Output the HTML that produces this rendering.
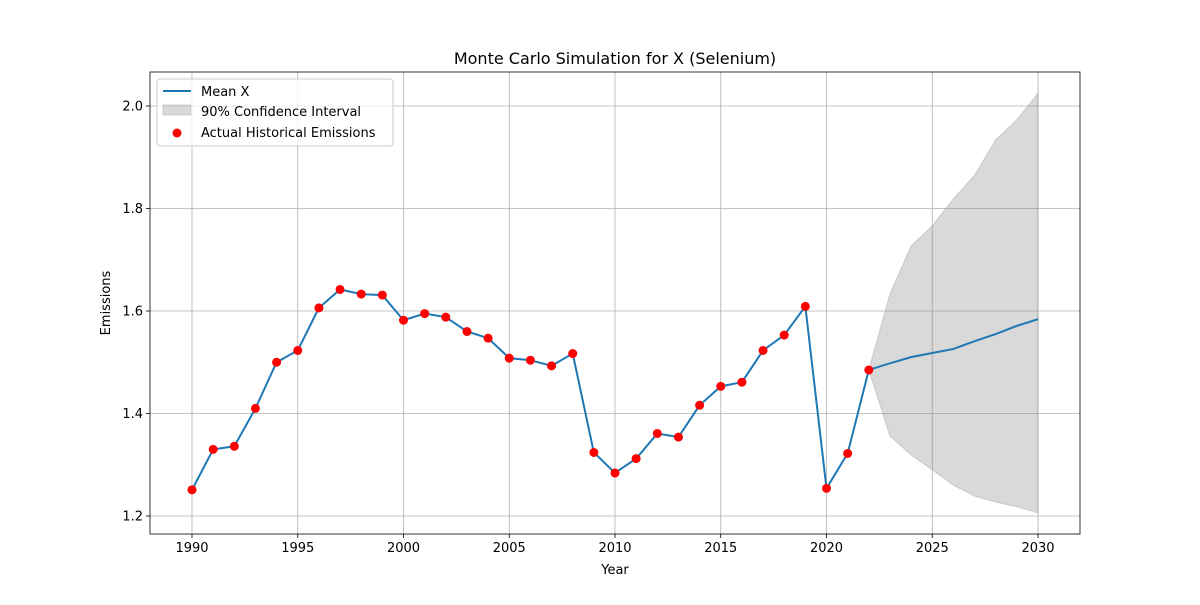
<!DOCTYPE html>
<html><head><meta charset="utf-8"><style>
body{margin:0;background:#fff;}
svg text{font-family:"DejaVu Sans","Liberation Sans",sans-serif;fill:#000;}
</style></head><body>
<svg id="chart" width="1200" height="600" xmlns="http://www.w3.org/2000/svg"></svg>
<script>
const histYears=[1990,1991,1992,1993,1994,1995,1996,1997,1998,1999,2000,2001,2002,2003,2004,2005,2006,2007,2008,2009,2010,2011,2012,2013,2014,2015,2016,2017,2018,2019,2020,2021,2022];
const histValues=[1.251,1.330,1.336,1.410,1.500,1.523,1.606,1.642,1.633,1.631,1.582,1.595,1.588,1.560,1.547,1.508,1.504,1.493,1.517,1.324,1.284,1.312,1.361,1.354,1.416,1.453,1.461,1.523,1.553,1.609,1.254,1.322,1.485];
const fcYears=[2022,2023,2024,2025,2026,2027,2028,2029,2030];
const fcMean=[1.485,1.498,1.510,1.518,1.526,1.541,1.555,1.571,1.584];
const fcUpper=[1.485,1.633,1.727,1.766,1.819,1.865,1.934,1.973,2.025];
const fcLower=[1.485,1.356,1.319,1.290,1.260,1.239,1.227,1.218,1.206];
const xTicks=[1990,1995,2000,2005,2010,2015,2020,2025,2030];
const yTicks=[1.2,1.4,1.6,1.8,2.0];

const L=150,R=1080,T=72,B=534;
const x=v=>192+(v-1990)*(1038-192)/40;
const y=v=>516-(v-1.2)*512.5;
const svg=document.getElementById('chart');
const NS='http://www.w3.org/2000/svg';
function mk(t,a,p){const e=document.createElementNS(NS,t);for(const k in a)e.setAttribute(k,a[k]);(p||svg).appendChild(e);return e;}

const grid=mk('g',{});


xTicks.forEach(v=>{
  mk('line',{x1:x(v),x2:x(v),y1:T,y2:B,stroke:'#b0b0b0','stroke-width':0.8},grid);
  mk('line',{x1:x(v),x2:x(v),y1:B,y2:B+4,stroke:'#000','stroke-width':0.8});
  const t=mk('text',{x:x(v),y:B+18,'text-anchor':'middle','font-size':13});t.textContent=v;
  
  
});
yTicks.forEach(v=>{
  mk('line',{x1:L,x2:R,y1:y(v),y2:y(v),stroke:'#b0b0b0','stroke-width':0.8},grid);
  mk('line',{x1:L-4,x2:L,y1:y(v),y2:y(v),stroke:'#000','stroke-width':0.8});
  const t=mk('text',{x:L-7,y:y(v)+4.5,'text-anchor':'end','font-size':13});t.textContent=v.toFixed(1);
  
  
});

let band='';
fcYears.forEach((v,i)=>band+=(i?'L':'M')+x(v)+','+y(fcUpper[i]));
for(let i=fcYears.length-1;i>=0;i--)band+='L'+x(fcYears[i])+','+y(fcLower[i]);
const b=mk('path',{d:band+'Z',fill:'#808080','fill-opacity':0.3,stroke:'#808080','stroke-opacity':0.3});



const ys=histYears.concat(fcYears.slice(1)),vs=histValues.concat(fcMean.slice(1));
const ln=mk('polyline',{points:ys.map((v,i)=>x(v)+','+y(vs[i])).join(' '),fill:'none',stroke:'#1f77b4','stroke-width':2});



histYears.forEach((v,i)=>{
  const c=mk('circle',{cx:x(v),cy:y(histValues[i]),r:4.5,fill:'#ff0000'});
  
  
});

const fr=mk('rect',{x:L,y:T,width:R-L,height:B-T,fill:'none',stroke:'#000','stroke-width':0.8});



const tt=mk('text',{x:615,y:64,'text-anchor':'middle','font-size':16});tt.textContent='Monte Carlo Simulation for X (Selenium)';


const xt=mk('text',{x:615,y:574,'text-anchor':'middle','font-size':13});xt.textContent='Year';


const yt=mk('text',{x:110,y:303,'text-anchor':'middle','font-size':13,transform:'rotate(-90 110 303)'});yt.textContent='Emissions';



const lg=mk('g',{});


mk('rect',{x:157,y:79,width:236,height:67,rx:3,fill:'#fff','fill-opacity':0.8,stroke:'#ccc'},lg);
mk('line',{x1:163,x2:191,y1:91,y2:91,stroke:'#1f77b4','stroke-width':2},lg);
mk('rect',{x:163,y:105,width:28,height:10,fill:'#808080','fill-opacity':0.3,stroke:'#808080','stroke-opacity':0.3},lg);
mk('circle',{cx:177,cy:133,r:4.5,fill:'#ff0000'},lg);
[['Mean X',96],['90% Confidence Interval',116],['Actual Historical Emissions',137]].forEach(a=>{
  const t=mk('text',{x:201,y:a[1],'font-size':13},lg);t.textContent=a[0];
  
  
});
</script>
</body></html>
